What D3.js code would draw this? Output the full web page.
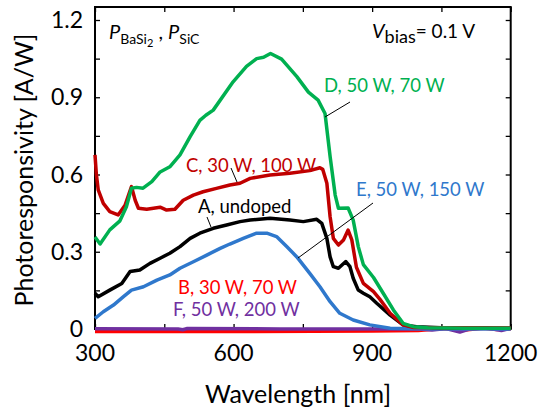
<!DOCTYPE html>
<html>
<head>
<meta charset="utf-8">
<script src="https://cdn.jsdelivr.net/npm/d3@7"></script>
<style>
  html, body { margin: 0; padding: 0; background: #fff; }
  svg { display: block; font-family: Lato, "Open Sans", sans-serif; }
</style>
</head>
<body>
<svg id="chart" width="546" height="417"></svg>
<script>
// ---------- data ----------
const xTicks = [300, 600, 900, 1200];
const xTickLabels = ["300", "600", "900", "1200"];
const yTicks = [0, 0.3, 0.6, 0.9, 1.2];
const yTickLabels = ["0", "0.3", "0.6", "0.9", "1.2"];

// A, undoped (black)
const waveA = [300, 307, 332, 358, 376, 397, 419, 441, 462, 484, 506, 527, 556, 585, 614, 636, 679, 722, 751, 780, 791, 802, 809, 816, 827, 843, 852, 859, 870, 881, 895, 910, 939, 967, 996, 1050, 1200];
const respA = [0.139, 0.125, 0.151, 0.177, 0.223, 0.229, 0.255, 0.275, 0.294, 0.32, 0.352, 0.372, 0.391, 0.404, 0.417, 0.423, 0.43, 0.423, 0.417, 0.426, 0.41, 0.352, 0.28, 0.242, 0.236, 0.262, 0.242, 0.197, 0.151, 0.139, 0.125, 0.1, 0.054, 0.016, 0.009, 0.005, 0.003];

// B, 30 W, 70 W (red)
const waveB = [300, 600, 900, 1000, 1050, 1100, 1140, 1170, 1200];
const respB = [-0.01, -0.01, -0.008, -0.006, 0.002, -0.004, 0.003, -0.002, 0.0];

// C, 30 W, 100 W (dark red)
const waveC = [300, 303, 307, 318, 332, 350, 365, 379, 387, 394, 412, 441, 455, 473, 491, 513, 534, 563, 592, 614, 636, 679, 722, 765, 787, 793, 802, 809, 816, 827, 838, 848, 856, 866, 881, 903, 917, 939, 967, 990, 1050, 1200];
const respC = [0.676, 0.6, 0.54, 0.488, 0.456, 0.443, 0.48, 0.553, 0.5, 0.469, 0.465, 0.473, 0.462, 0.465, 0.5, 0.52, 0.533, 0.546, 0.559, 0.566, 0.585, 0.598, 0.605, 0.615, 0.626, 0.62, 0.566, 0.436, 0.352, 0.326, 0.346, 0.384, 0.346, 0.24, 0.177, 0.145, 0.115, 0.061, 0.016, 0.006, 0.005, 0.004];

// D, 50 W, 70 W (green)
const waveD = [300, 311, 332, 354, 368, 379, 390, 404, 423, 441, 462, 484, 506, 527, 540, 556, 599, 628, 650, 665, 680, 704, 737, 762, 783, 798, 809, 820, 827, 848, 859, 870, 881, 903, 924, 946, 967, 989, 1020, 1100, 1200];
const respD = [0.357, 0.33, 0.385, 0.42, 0.475, 0.547, 0.55, 0.547, 0.572, 0.61, 0.63, 0.676, 0.747, 0.81, 0.83, 0.85, 0.96, 1.02, 1.05, 1.055, 1.07, 1.048, 0.98, 0.92, 0.889, 0.837, 0.67, 0.52, 0.469, 0.47, 0.423, 0.32, 0.25, 0.2, 0.139, 0.074, 0.022, 0.009, 0.005, 0.003, 0.003];

// E, 50 W, 150 W (blue)
const waveE = [300, 318, 340, 361, 379, 405, 434, 462, 484, 513, 542, 571, 592, 621, 650, 672, 693, 715, 737, 765, 787, 809, 830, 859, 895, 939, 1000, 1200];
const respE = [0.041, 0.067, 0.093, 0.125, 0.151, 0.164, 0.19, 0.21, 0.236, 0.261, 0.287, 0.313, 0.33, 0.352, 0.372, 0.372, 0.359, 0.32, 0.28, 0.216, 0.164, 0.106, 0.061, 0.035, 0.016, 0.003, 0.001, 0.0];

// F, 50 W, 200 W (purple)
const waveF = [300, 480, 490, 500, 700, 900, 1000, 1030, 1060, 1090, 1110, 1150, 1180, 1200];
const respF = [0.001, 0.0, -0.003, 0.002, 0.0, 0.0, 0.001, -0.004, 0.002, -0.012, 0.0, 0.004, -0.006, 0.003];

const seriesNames = ["B", "F", "E", "A", "C", "D"];
const seriesColors = {A: "#000000", B: "#ff0000", C: "#c00000", D: "#00b050", E: "#2f78cc", F: "#7030a0"};
const seriesData = {
  A: [waveA, respA], B: [waveB, respB], C: [waveC, respC],
  D: [waveD, respD], E: [waveE, respE], F: [waveF, respF]
};

// ---------- layout ----------
const svg = d3.select("#chart");
const L = 95, R = 510.7, T = 7, B = 329;
const x = d3.scaleLinear().domain([300, 1200]).range([L, R]);
const y = d3.scaleLinear().domain([0, 1.2505]).range([B, T]);

// frame (drawn first so the curves lie on top of it)
svg.append("rect").attr("x", L).attr("y", T).attr("width", R - L).attr("height", B - T)
  .attr("fill", "none").attr("stroke", "#000").attr("stroke-width", 2);

// axes (ticks inward on all four sides)
const minorX = d3.range(300, 1201, 150);
const minorY = d3.range(0, 1.2501, 0.15);
svg.append("g").attr("transform", `translate(0,${B})`)
  .call(d3.axisBottom(x).tickValues(minorX).tickSizeInner(-5).tickSizeOuter(0).tickFormat(""));
svg.append("g").attr("transform", `translate(0,${T})`)
  .call(d3.axisTop(x).tickValues(minorX).tickSizeInner(-5).tickSizeOuter(0).tickFormat(""));
svg.append("g").attr("transform", `translate(${L},0)`)
  .call(d3.axisLeft(y).tickValues(minorY).tickSizeInner(-5).tickSizeOuter(0).tickFormat(""));
svg.append("g").attr("transform", `translate(${R},0)`)
  .call(d3.axisRight(y).tickValues(minorY).tickSizeInner(-5).tickSizeOuter(0).tickFormat(""));
svg.selectAll(".domain").remove();
svg.selectAll(".tick line").attr("stroke", "#000").attr("stroke-width", 1.3);

// series lines
const line = d3.line().x(d => x(d[0])).y(d => y(d[1]));
seriesNames.forEach(k => {
  const [w, r] = seriesData[k];
  const pts = w.map((v, i) => [v, r[i]]);
  svg.append("path").datum(pts)
    .attr("d", line)
    .attr("fill", "none")
    .attr("stroke", seriesColors[k])
    .attr("stroke-width", 3.5)
    .attr("stroke-linejoin", "round");
});

// tick labels
svg.append("g").selectAll("text").data(xTicks).join("text")
  .attr("x", d => x(d)).attr("y", 361)
  .attr("text-anchor", "middle").attr("font-size", 23).attr("fill", "#000")
  .text((d, i) => xTickLabels[i]);
svg.append("g").selectAll("text").data(yTicks).join("text")
  .attr("x", 83).attr("y", d => y(d) + 8)
  .attr("text-anchor", "end").attr("font-size", 23).attr("fill", "#000")
  .text((d, i) => yTickLabels[i]);

// axis titles
svg.append("text").attr("x", 298).attr("y", 403).attr("text-anchor", "middle")
  .attr("font-size", 25).attr("fill", "#000").text("Wavelength [nm]");
svg.append("text").attr("transform", `translate(33,170) rotate(-90)`)
  .attr("text-anchor", "middle").attr("font-size", 25).attr("fill", "#000")
  .text("Photoresponsivity [A/W]");

// top-left label P_BaSi2 , P_SiC
const t1 = svg.append("text").attr("x", 109).attr("y", 39).attr("font-size", 20).attr("fill", "#000");
t1.append("tspan").attr("font-style", "italic").text("P");
t1.append("tspan").attr("font-size", 14).attr("dy", 5).text("BaSi");
t1.append("tspan").attr("font-size", 11).attr("dy", 3).text("2");
t1.append("tspan").attr("dy", -8).text(" , ");
t1.append("tspan").attr("font-style", "italic").text("P");
t1.append("tspan").attr("font-size", 14).attr("dy", 5).text("SiC");

// top-right label V_bias = 0.1 V
const t2 = svg.append("text").attr("x", 372).attr("y", 38).attr("font-size", 19).attr("fill", "#000");
t2.append("tspan").attr("font-style", "italic").attr("font-size", 20).text("V");
t2.append("tspan").attr("font-size", 18).attr("dy", 5).text("bias");
t2.append("tspan").attr("dy", -5).text("= 0.1 V");

// series annotations
const notes = [
  {k: "D", text: "D, 50 W, 70 W", x: 324, y: 92},
  {k: "C", text: "C, 30 W, 100 W", x: 186, y: 172},
  {k: "A", text: "A, undoped", x: 198, y: 213},
  {k: "E", text: "E, 50 W, 150 W", x: 356, y: 196},
  {k: "B", text: "B, 30 W, 70 W", x: 178, y: 294},
  {k: "F", text: "F, 50 W, 200 W", x: 173, y: 316}
];
svg.append("g").selectAll("text").data(notes).join("text")
  .attr("x", d => d.x).attr("y", d => d.y)
  .attr("font-size", 18.5).attr("fill", d => seriesColors[d.k])
  .text(d => d.text);

// leader lines
const leaders = [
  [350, 102, 325, 117],
  [231, 168, 237, 182],
  [207, 217, 211, 227],
  [373, 203, 298, 258]
];
svg.append("g").selectAll("line").data(leaders).join("line")
  .attr("x1", d => d[0]).attr("y1", d => d[1]).attr("x2", d => d[2]).attr("y2", d => d[3])
  .attr("stroke", "#000").attr("stroke-width", 1);
</script>
</body>
</html>
